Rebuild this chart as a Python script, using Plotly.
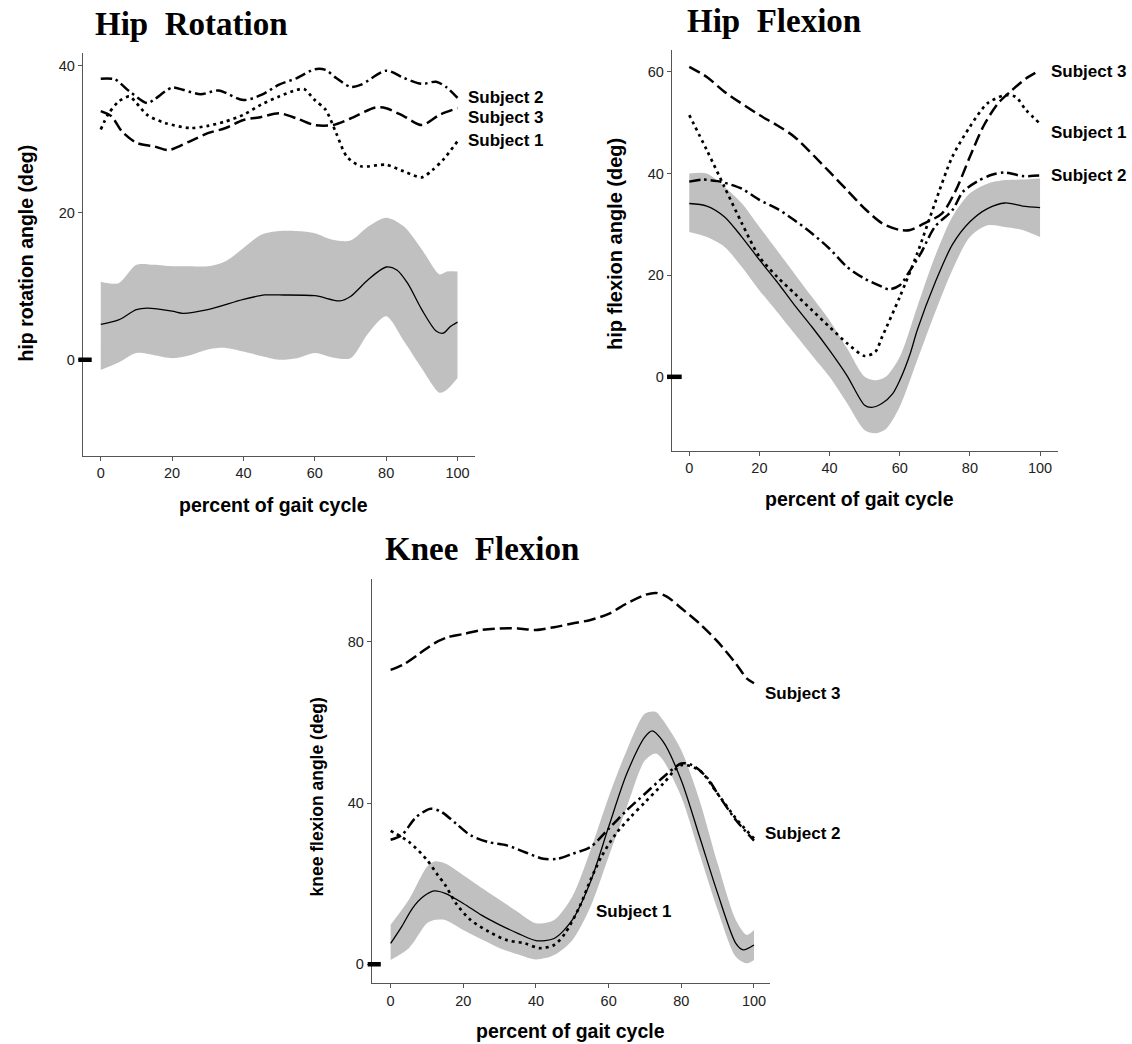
import plotly.graph_objects as go

# ---------------- Hip Rotation ----------------
hr_band_x = [0, 5, 10, 15, 20, 25, 30, 35, 40, 45, 50, 55, 60, 65, 70, 75, 80, 85, 90, 95, 97, 100]
hr_band_hi = [10.6, 10.4, 12.9, 12.9, 12.7, 12.7, 12.7, 13.4, 15.2, 17.0, 17.5, 17.5, 17.2, 16.3, 16.2, 18.1, 19.3, 18.1, 15.0, 11.6, 12.0, 12.0]
hr_band_lo = [-1.4, -0.4, 0.9, 0.6, 0.2, 0.6, 1.4, 1.6, 1.1, 0.5, 0.0, 0.2, 0.9, 0.3, 0.2, 3.6, 5.9, 2.5, -1.2, -4.5, -4.1, -2.5]
hr_mean_x = [0, 5, 10, 13, 20, 23, 30, 40, 46, 50, 60, 67, 70, 75, 80, 83, 86, 90, 94, 96, 98, 100]
hr_mean = [4.8, 5.4, 6.8, 7.0, 6.6, 6.3, 6.8, 8.2, 8.8, 8.8, 8.7, 8.0, 8.6, 10.9, 12.6, 12.2, 10.4, 6.8, 3.9, 3.6, 4.5, 5.1]
hr_s1_x = [0, 2, 5, 8, 10, 13, 18, 25, 30, 35, 40, 45, 50, 55, 57, 60, 63, 66, 69, 73, 80, 85, 90, 93, 96, 100]
hr_s1 = [31.3, 33.3, 35.1, 35.8, 34.9, 33.3, 32.2, 31.5, 31.8, 32.4, 33.3, 34.7, 35.8, 36.7, 36.8, 35.3, 34.0, 30.8, 27.6, 26.3, 26.5, 25.6, 24.8, 25.8, 27.2, 29.7]
hr_s2_x = [0, 4, 8, 13, 15, 20, 23, 28, 33, 40, 45, 50, 55, 60, 63, 66, 70, 73, 80, 85, 90, 94, 97, 100]
hr_s2 = [38.2, 38.1, 36.5, 34.9, 35.4, 37.0, 36.7, 36.1, 36.6, 35.3, 36.0, 37.4, 38.3, 39.5, 39.4, 38.3, 37.1, 37.4, 39.3, 38.3, 37.5, 37.8, 37.0, 35.6]
hr_s3_x = [0, 3, 6, 10, 15, 19, 25, 30, 35, 40, 45, 50, 55, 60, 65, 70, 77, 80, 85, 90, 95, 100]
hr_s3 = [33.8, 33.1, 31.0, 29.5, 29.0, 28.5, 29.7, 30.8, 31.5, 32.6, 33.0, 33.5, 32.8, 31.9, 31.9, 32.8, 34.3, 34.2, 33.1, 31.9, 33.3, 34.2]
hr_labels = ["Subject 2", "Subject 3", "Subject 1"]
hr_label_y = [35.7, 33.0, 29.8]

# ---------------- Hip Flexion ----------------
hf_band_x = [0, 5, 10, 15, 20, 25, 30, 35, 40, 45, 50, 53, 56, 60, 65, 70, 75, 80, 85, 90, 95, 100]
hf_band_hi = [40.0, 40.0, 37.4, 34.1, 29.5, 24.9, 20.3, 15.7, 11.1, 5.6, 0.0, -0.7, 0.0, 3.9, 13.8, 23.6, 31.5, 36.1, 38.0, 38.7, 38.8, 39.0]
hf_band_lo = [28.5, 27.5, 25.6, 21.6, 17.0, 12.8, 8.5, 4.2, 0.0, -5.2, -10.5, -11.1, -10.3, -5.9, 3.3, 12.5, 21.0, 27.5, 29.8, 29.5, 28.9, 27.5]
hf_mean_x = [0, 5, 10, 15, 20, 25, 30, 35, 40, 45, 50, 52, 55, 58, 60, 63, 65, 70, 75, 80, 85, 90, 95, 100]
hf_mean = [34.1, 33.6, 31.5, 27.5, 23.0, 18.7, 14.1, 9.8, 5.2, 0.2, -5.6, -6.0, -5.2, -3.3, -0.7, 4.6, 9.2, 18.4, 26.0, 30.5, 33.1, 34.2, 33.6, 33.3]
hf_s1_x = [0, 5, 10, 15, 20, 25, 30, 35, 40, 45, 50, 53, 55, 60, 65, 70, 75, 80, 85, 90, 93, 96, 100]
hf_s1 = [51.5, 44.6, 37.4, 30.2, 23.6, 19.7, 16.4, 13.1, 9.8, 6.6, 4.1, 4.9, 7.9, 15.7, 24.3, 34.1, 43.3, 49.2, 53.8, 55.4, 55.1, 52.5, 49.8]
hf_s2_x = [0, 4, 8, 10, 15, 20, 25, 30, 35, 40, 45, 50, 55, 57, 60, 63, 66, 70, 75, 78, 82, 86, 90, 95, 100]
hf_s2 = [38.4, 38.8, 38.5, 38.2, 37.0, 34.8, 33.1, 30.8, 28.2, 25.2, 21.6, 19.3, 17.7, 17.2, 18.0, 21.0, 24.3, 29.5, 32.8, 36.4, 38.4, 39.7, 40.2, 39.5, 39.6]
hf_s3_x = [0, 5, 10, 20, 25, 30, 40, 45, 50, 55, 60, 63, 67, 72, 76, 80, 84, 88, 92, 96, 100]
hf_s3 = [61.0, 59.0, 56.1, 51.5, 49.5, 47.2, 40.3, 36.7, 33.1, 30.2, 28.9, 28.9, 30.2, 32.1, 36.7, 43.3, 49.5, 53.8, 56.4, 58.7, 60.3]
hf_labels = ["Subject 3", "Subject 1", "Subject 2"]
hf_label_y = [60.1, 48.0, 39.7]

# ---------------- Knee Flexion ----------------
kf_band_x = [0, 5, 10, 12, 15, 20, 25, 30, 35, 40, 45, 50, 55, 60, 65, 70, 73, 75, 80, 85, 90, 95, 98, 100]
kf_band_hi = [9.8, 16.0, 24.2, 25.5, 25.0, 22.1, 19.0, 16.0, 13.0, 10.2, 11.0, 16.8, 28.3, 41.5, 53.1, 62.2, 62.6, 60.5, 53.1, 40.7, 25.0, 11.0, 7.3, 8.5]
kf_band_lo = [1.1, 4.0, 10.2, 11.0, 11.0, 8.5, 6.2, 4.0, 2.5, 1.2, 2.3, 6.0, 14.3, 26.7, 39.0, 50.6, 52.3, 50.6, 41.5, 27.5, 13.5, 1.9, 0.25, 1.1]
kf_mean_x = [0, 3, 6, 9, 12, 15, 20, 25, 30, 35, 40, 45, 50, 55, 60, 65, 70, 72, 75, 80, 85, 90, 95, 97, 100]
kf_mean = [5.2, 9.3, 13.9, 16.8, 18.2, 17.6, 15.1, 12.2, 9.8, 7.7, 5.9, 6.4, 11.0, 20.5, 34.1, 47.3, 56.4, 57.9, 55.2, 45.6, 31.7, 17.6, 5.2, 3.6, 4.8]
kf_s1_x = [0, 5, 10, 13, 15, 18, 22, 27, 32, 37, 41, 45, 48, 52, 55, 58, 62, 66, 70, 75, 80, 85, 90, 95, 100]
kf_s1 = [33.1, 30.4, 25.9, 22.1, 19.7, 15.1, 11.0, 8.1, 6.0, 5.2, 4.0, 4.8, 7.7, 14.3, 20.9, 26.7, 32.4, 36.5, 40.2, 44.8, 49.4, 48.1, 42.3, 36.2, 31.2]
kf_s2_x = [0, 3, 7, 11, 14, 18, 22, 27, 32, 37, 42, 46, 50, 55, 60, 65, 70, 75, 80, 83, 87, 90, 95, 100]
kf_s2 = [30.9, 32.0, 36.5, 38.6, 37.8, 34.9, 32.0, 30.3, 29.5, 27.8, 26.2, 26.2, 27.4, 29.1, 33.6, 38.2, 42.3, 46.4, 49.8, 49.4, 46.4, 42.3, 35.8, 30.7]
kf_s3_x = [0, 4, 8, 12, 16, 20, 25, 30, 35, 40, 45, 50, 55, 60, 65, 70, 73, 76, 80, 85, 90, 95, 98, 100]
kf_s3 = [73.0, 74.6, 77.1, 79.6, 81.2, 81.9, 82.9, 83.3, 83.3, 82.9, 83.6, 84.5, 85.4, 86.9, 89.5, 91.6, 92.1, 91.2, 88.3, 84.5, 80.0, 74.6, 70.9, 69.7]
kf_labels = ["Subject 3", "Subject 2", "Subject 1"]
kf_label_x = [102.5, 102.5, 56.0]
kf_label_y = [67.2, 32.4, 13.0]

x_ticks = [0, 20, 40, 60, 80, 100]
hr_yticks = [0, 20, 40]
hf_yticks = [0, 20, 40, 60]
kf_yticks = [0, 40, 80]

titles = ["Hip\u00a0\u00a0Rotation", "Hip\u00a0\u00a0Flexion", "Knee\u00a0\u00a0Flexion"]
y_titles = ["hip rotation angle (deg)", "hip flexion angle (deg)", "knee flexion angle (deg)"]
x_title = "percent of gait cycle"

SANS = "Liberation Sans, Arial, sans-serif"
SERIF = "Liberation Serif, Times New Roman, serif"
BAND = "#c0c0c0"

fig = go.Figure()

dash_s1 = "3px,4px"
dash_s2 = "11px,4px,2.5px,4px"
dash_s3 = "12px,5px"


def add_panel(xa, ya, bx, bhi, blo, mx, my, s1x, s1, s2x, s2, s3x, s3):
    fig.add_trace(go.Scatter(x=bx, y=bhi, mode="lines", line=dict(width=0, shape="spline", smoothing=0.8),
                             xaxis=xa, yaxis=ya, hoverinfo="skip", showlegend=False))
    fig.add_trace(go.Scatter(x=bx, y=blo, mode="lines", line=dict(width=0, shape="spline", smoothing=0.8),
                             fill="tonexty", fillcolor=BAND,
                             xaxis=xa, yaxis=ya, hoverinfo="skip", showlegend=False))
    fig.add_trace(go.Scatter(x=mx, y=my, mode="lines", line=dict(color="black", width=1.3, shape="spline", smoothing=0.8),
                             xaxis=xa, yaxis=ya, showlegend=False))
    fig.add_trace(go.Scatter(x=s1x, y=s1, mode="lines", line=dict(color="black", width=2.7, dash=dash_s1, shape="spline", smoothing=0.8),
                             xaxis=xa, yaxis=ya, showlegend=False))
    fig.add_trace(go.Scatter(x=s2x, y=s2, mode="lines", line=dict(color="black", width=2.5, dash=dash_s2, shape="spline", smoothing=0.8),
                             xaxis=xa, yaxis=ya, showlegend=False))
    fig.add_trace(go.Scatter(x=s3x, y=s3, mode="lines", line=dict(color="black", width=2.5, dash=dash_s3, shape="spline", smoothing=0.8),
                             xaxis=xa, yaxis=ya, showlegend=False))


add_panel("x", "y", hr_band_x, hr_band_hi, hr_band_lo, hr_mean_x, hr_mean, hr_s1_x, hr_s1, hr_s2_x, hr_s2, hr_s3_x, hr_s3)
add_panel("x2", "y2", hf_band_x, hf_band_hi, hf_band_lo, hf_mean_x, hf_mean, hf_s1_x, hf_s1, hf_s2_x, hf_s2, hf_s3_x, hf_s3)
add_panel("x3", "y3", kf_band_x, kf_band_hi, kf_band_lo, kf_mean_x, kf_mean, kf_s1_x, kf_s1, kf_s2_x, kf_s2, kf_s3_x, kf_s3)

axis_common = dict(showline=True, linecolor="#555555", linewidth=1, ticks="outside", ticklen=4,
                   tickcolor="#555555", showgrid=False, zeroline=False,
                   tickfont=dict(family=SANS, size=14.5, color="#222222"), fixedrange=True)

fig.update_layout(
    width=1132, height=1044,
    margin=dict(l=0, r=0, t=0, b=0),
    paper_bgcolor="white", plot_bgcolor="white",
    showlegend=False,
    xaxis=dict(domain=[0.0731, 0.4196], range=[-5.05, 104.9], anchor="y", tickvals=x_ticks, **axis_common),
    yaxis=dict(domain=[0.5635, 0.9492], range=[-13.06, 41.7], anchor="x", tickvals=hr_yticks, **axis_common),
    xaxis2=dict(domain=[0.5934, 0.9349], range=[-5.0, 105.2], anchor="y2", tickvals=x_ticks, **axis_common),
    yaxis2=dict(domain=[0.5680, 0.9521], range=[-14.6, 64.3], anchor="x2", tickvals=hf_yticks, **axis_common),
    xaxis3=dict(domain=[0.3284, 0.6802], range=[-5.2, 104.4], anchor="y3", tickvals=x_ticks, **axis_common),
    yaxis3=dict(domain=[0.0581, 0.4451], range=[-4.71, 95.47], anchor="x3", tickvals=kf_yticks, **axis_common),
)

# thick zero markers on the y axes
zero_marks = [("y", 78.3, 91.7), ("y2", 667.0, 681.7), ("y3", 367.7, 380.8)]
for yref, px0, px1 in zero_marks:
    fig.add_shape(type="line", xref="paper", yref=yref, x0=px0 / 1132, x1=px1 / 1132, y0=0, y1=0,
                  line=dict(color="black", width=4.5))

ann = []
# subject labels
for t, yv in zip(hr_labels, hr_label_y):
    ann.append(dict(x=102.5, y=yv, xref="x", yref="y", text=t, showarrow=False, xanchor="left", yanchor="middle",
                    font=dict(family=SANS, size=17, color="black", weight="bold")))
for t, yv in zip(hf_labels, hf_label_y):
    ann.append(dict(x=102.5, y=yv, xref="x2", yref="y2", text=t, showarrow=False, xanchor="left", yanchor="middle",
                    font=dict(family=SANS, size=17, color="black", weight="bold")))
for t, xv, yv in zip(kf_labels, kf_label_x, kf_label_y):
    ann.append(dict(x=xv, y=yv, xref="x3", yref="y3", text=t, showarrow=False, xanchor="left", yanchor="middle",
                    font=dict(family=SANS, size=17, color="black", weight="bold")))

# panel titles
title_pos = [(93 / 1132, 1 - 24 / 1044), (685 / 1132, 1 - 21 / 1044), (383 / 1132, 1 - 549 / 1044)]
for t, (px, py) in zip(titles, title_pos):
    ann.append(dict(x=px, y=py, xref="paper", yref="paper", text=t, showarrow=False, xanchor="left", yanchor="middle",
                    font=dict(family=SERIF, size=33, color="black", weight="bold")))

# axis titles
ytitle_pos = [(25 / 1132, 1 - 253.5 / 1044, 19.5), (615 / 1132, 1 - 244 / 1044, 20), (316.5 / 1132, 1 - 797 / 1044, 17.5)]
for t, (px, py, fs) in zip(y_titles, ytitle_pos):
    ann.append(dict(x=px, y=py, xref="paper", yref="paper", text=t, showarrow=False, textangle=-90,
                    xanchor="center", yanchor="middle",
                    font=dict(family=SANS, size=fs, color="black", weight="bold")))
xtitle_pos = [(273.3 / 1132, 1 - 505 / 1044), (859.7 / 1132, 1 - 499 / 1044), (570 / 1132, 1 - 1031 / 1044)]
for px, py in xtitle_pos:
    ann.append(dict(x=px, y=py, xref="paper", yref="paper", text=x_title, showarrow=False,
                    xanchor="center", yanchor="middle",
                    font=dict(family=SANS, size=19.5, color="black", weight="bold")))

fig.update_layout(annotations=ann)
fig.write_html("out.html")
